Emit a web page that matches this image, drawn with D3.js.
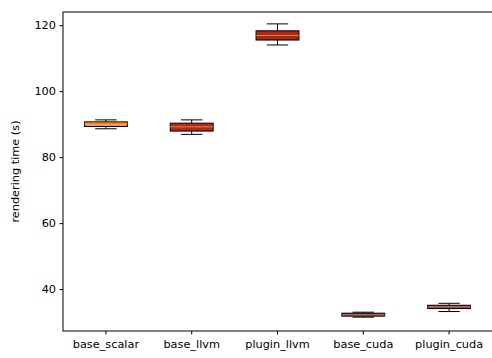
<!DOCTYPE html>
<html>
<head>
<meta charset="utf-8">
<script src="https://cdn.jsdelivr.net/npm/d3@7"></script>
<style>
  html, body { margin: 0; padding: 0; background: #fff; }
  svg { display: block; font-family: "DejaVu Sans", sans-serif; }
</style>
</head>
<body>
<svg id="chart" width="492" height="358"></svg>
<script>
// Rendering-time summary per backend (seconds)
const categories = ["base_scalar", "base_llvm", "plugin_llvm", "base_cuda", "plugin_cuda"];
const whiskerLow  = [88.6, 86.9, 114.0, 31.5, 33.2];
const q1          = [89.3, 87.9, 115.5, 31.8, 34.1];
const median      = [90.2, 89.2, 116.9, 32.2, 34.6];
const q3          = [90.7, 90.3, 118.3, 32.7, 35.1];
const whiskerHigh = [91.3, 91.3, 120.4, 33.0, 35.7];
const boxColors   = ["#f7a04c", "#b02a24", "#a8271f", "#3d3590", "#57358f"];
const yTicks      = [40, 60, 80, 100, 120];

const svg = d3.select("#chart");
const margin = { left: 63, right: 0, top: 12, bottom: 27 };
const W = 492, H = 358;
const x0 = margin.left, x1 = W - margin.right;
const y0 = margin.top, y1 = H - margin.bottom;
const fontSize = 11.3;

const x = d3.scaleBand().domain(categories).range([x0, x1]).paddingInner(0).paddingOuter(0);
const y = d3.scaleLinear().domain([27.3, 124.0]).range([y1, y0]);

const boxW = x.bandwidth() * 0.5;
const capW = boxW * 0.5;

const rows = categories.map((c, i) => ({
  c, lo: whiskerLow[i], q1: q1[i], med: median[i], q3: q3[i], hi: whiskerHigh[i], col: boxColors[i]
}));

const g = svg.append("g");
const item = g.selectAll("g.box").data(rows).join("g").attr("class", "box")
  .attr("transform", d => `translate(${x(d.c) + x.bandwidth() / 2},0)`);

// whiskers
item.append("line").attr("x1", 0).attr("x2", 0)
  .attr("y1", d => y(d.q3)).attr("y2", d => y(d.hi))
  .attr("stroke", "#000").attr("stroke-width", 1);
item.append("line").attr("x1", 0).attr("x2", 0)
  .attr("y1", d => y(d.q1)).attr("y2", d => y(d.lo))
  .attr("stroke", "#000").attr("stroke-width", 1);
// caps
item.append("line").attr("x1", -capW / 2).attr("x2", capW / 2)
  .attr("y1", d => y(d.hi)).attr("y2", d => y(d.hi))
  .attr("stroke", "#000").attr("stroke-width", 1);
item.append("line").attr("x1", -capW / 2).attr("x2", capW / 2)
  .attr("y1", d => y(d.lo)).attr("y2", d => y(d.lo))
  .attr("stroke", "#000").attr("stroke-width", 1);
// boxes
item.append("rect").attr("x", -boxW / 2).attr("width", boxW)
  .attr("y", d => y(d.q3)).attr("height", d => y(d.q1) - y(d.q3))
  .attr("fill", d => d.col).attr("stroke", "#000").attr("stroke-width", 1);
// medians
item.append("line").attr("x1", -boxW / 2).attr("x2", boxW / 2)
  .attr("y1", d => y(d.med)).attr("y2", d => y(d.med))
  .attr("stroke", "#ff7f0e").attr("stroke-width", 1);

// axes
const yAxis = d3.axisLeft(y).tickValues(yTicks).tickSize(3.5).tickPadding(3.5).tickFormat(d3.format("d"));
const gy = svg.append("g").attr("transform", `translate(${x0},0)`).call(yAxis);
gy.select(".domain").remove();
gy.selectAll("text").attr("font-size", fontSize).attr("fill", "#000").attr("font-family", "DejaVu Sans");
gy.selectAll("line").attr("stroke", "#000");

const xAxis = d3.axisBottom(x).tickSize(3.5).tickPadding(5);
const gx = svg.append("g").attr("transform", `translate(0,${y1})`).call(xAxis);
gx.select(".domain").remove();
gx.selectAll("text").attr("font-size", fontSize).attr("fill", "#000").attr("font-family", "DejaVu Sans");
gx.selectAll("line").attr("stroke", "#000");

// frame
svg.append("rect").attr("x", x0).attr("y", y0).attr("width", x1 - x0 + 1).attr("height", y1 - y0)
  .attr("fill", "none").attr("stroke", "#000").attr("stroke-width", 1);

// y label
svg.append("text")
  .attr("transform", `translate(19,${(y0 + y1) / 2}) rotate(-90)`)
  .attr("text-anchor", "middle").attr("font-size", fontSize).attr("fill", "#000")
  .text("rendering time (s)");
</script>
</body>
</html>
